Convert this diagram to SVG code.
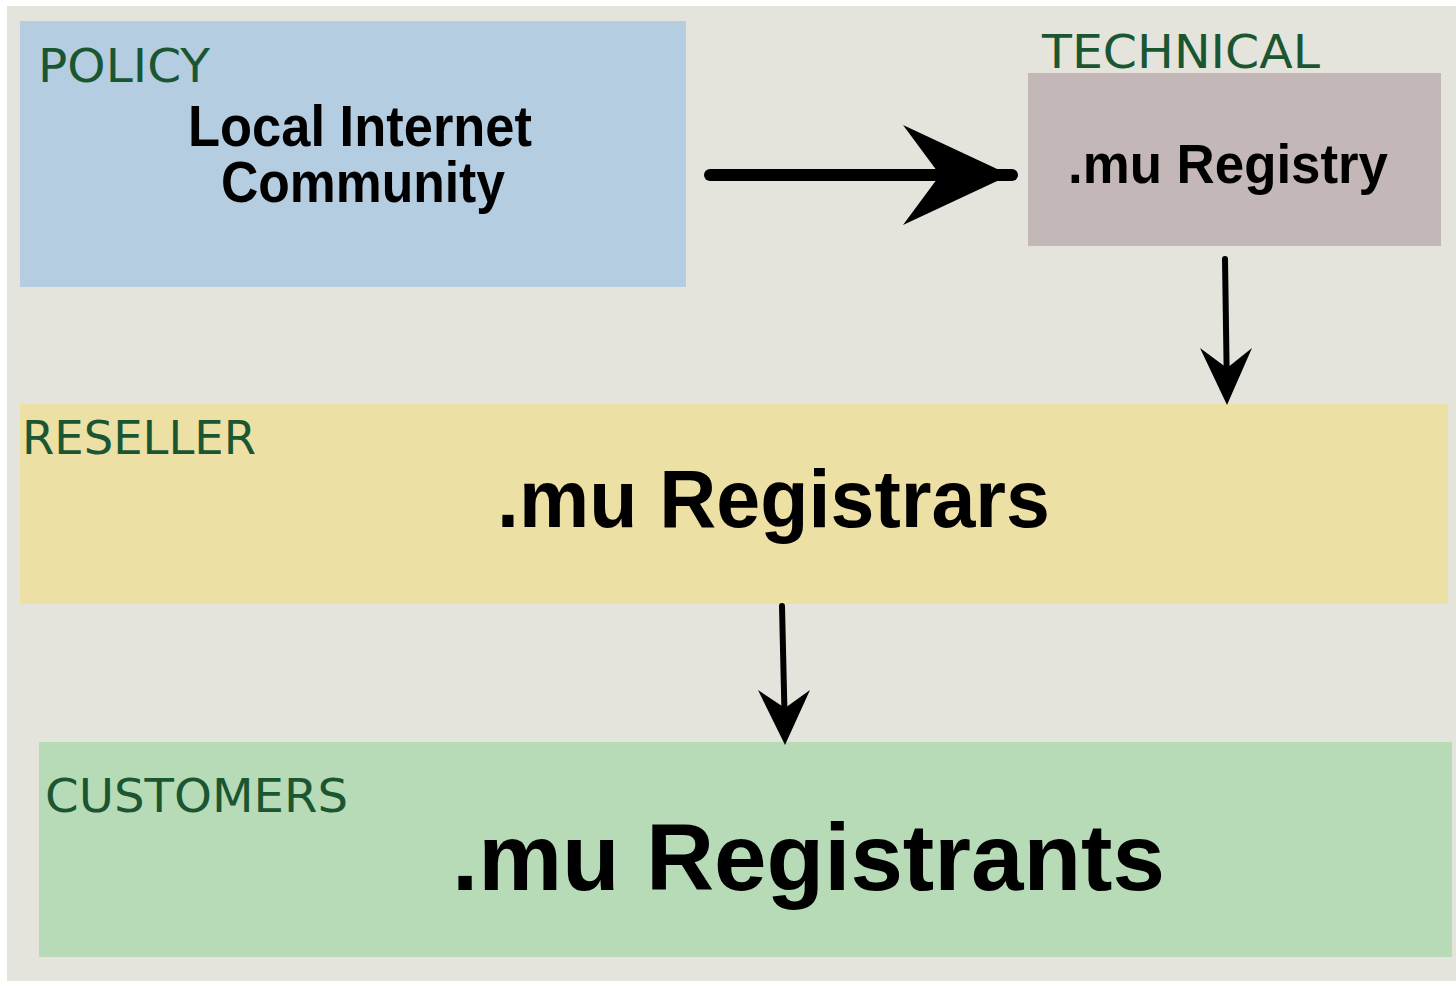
<svg xmlns="http://www.w3.org/2000/svg" width="1456" height="981" viewBox="0 0 1456 981">
<style>
.lbl{font-family:"DejaVu Sans",sans-serif;font-size:46px;fill:#1b5632}
.main{font-family:"Liberation Sans",Arial,sans-serif;font-weight:bold;fill:#000}
.ln{stroke:#000;stroke-linecap:round;fill:none}
</style>
<rect x="0" y="0" width="1456" height="981" fill="#ffffff"/>
<rect x="7" y="6" width="1449" height="975" fill="#e4e4dc"/>
<g id="policy">
<rect x="20" y="21" width="666" height="266" fill="#b5cde1"/>
<text class="lbl" x="38" y="82" textLength="172" lengthAdjust="spacingAndGlyphs">POLICY</text>
<text class="main" x="188" y="146" font-size="58" textLength="344" lengthAdjust="spacingAndGlyphs">Local Internet</text>
<text class="main" x="221" y="202" font-size="58" textLength="284" lengthAdjust="spacingAndGlyphs">Community</text>
</g>
<g id="technical">
<text class="lbl" x="1042" y="68" textLength="278" lengthAdjust="spacingAndGlyphs">TECHNICAL</text>
<rect x="1028" y="73" width="413" height="173" fill="#c4b7b7"/>
<text class="main" x="1068" y="183" font-size="56" textLength="320" lengthAdjust="spacingAndGlyphs">.mu Registry</text>
</g>
<g id="reseller">
<rect x="20" y="404" width="1428" height="200" fill="#ece0a5"/>
<text class="lbl" x="22" y="454" textLength="234" lengthAdjust="spacingAndGlyphs">RESELLER</text>
<text class="main" x="497" y="527" font-size="82" textLength="553" lengthAdjust="spacingAndGlyphs">.mu Registrars</text>
</g>
<g id="customers">
<rect x="39" y="742" width="1413" height="215" fill="#b8dbb7"/>
<text class="lbl" x="45" y="812" textLength="303" lengthAdjust="spacingAndGlyphs">CUSTOMERS</text>
<text class="main" x="452" y="890" font-size="95" textLength="713" lengthAdjust="spacingAndGlyphs">.mu Registrants</text>
</g>
<g id="connectors">
<line class="ln" x1="710" y1="175" x2="1012" y2="175" stroke-width="12"/>
<polygon points="903,125 1010,175 903,225 940,175" fill="#000"/>
<line class="ln" x1="1225" y1="259" x2="1227" y2="395" stroke-width="6"/>
<polygon points="1200,348 1227,368 1252,348 1227,405" fill="#000"/>
<line class="ln" x1="782" y1="606" x2="785" y2="735" stroke-width="6"/>
<polygon points="758,690 785,708 810,690 785,745" fill="#000"/>
</g>
</svg>
